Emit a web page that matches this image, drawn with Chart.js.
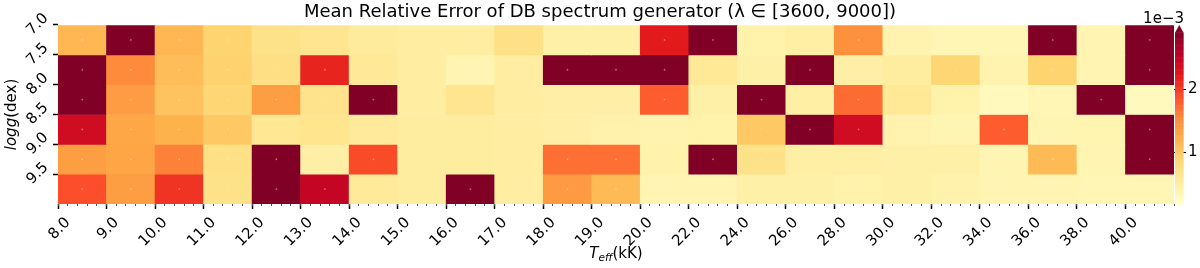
<!DOCTYPE html>
<html>
<head>
<meta charset="utf-8">
<script src="https://cdn.jsdelivr.net/npm/chart.js@4/dist/chart.umd.min.js"></script>
<style>
  html, body { margin: 0; padding: 0; background: #ffffff; }
  #wrap { width: 1200px; height: 268px; }
</style>
</head>
<body>
<div id="wrap"><canvas id="c" width="1200" height="268"></canvas></div>
<script>
// ---- data (units of 1e-3) ----
const tempLabels = ['8.0','9.0','10.0','11.0','12.0','13.0','14.0','15.0','16.0','17.0','18.0','19.0','20.0',
                    '22.0','24.0','26.0','28.0','30.0','32.0','34.0','36.0','38.0','40.0'];
const loggLabels = ['7.0','7.5','8.0','8.5','9.0','9.5'];
const err_logg70 = [1.15, 3.5, 1.15, 0.90, 0.70, 0.65, 0.55, 0.50, 0.50, 0.72, 0.45, 0.45, 2.22, 3.5, 0.43, 0.48, 1.50, 0.40, 0.35, 0.35, 3.5, 0.38, 3.5];
const err_logg75 = [3.5, 1.55, 1.10, 0.92, 0.75, 2.15, 0.58, 0.50, 0.38, 0.50, 3.5, 3.5, 3.5, 0.60, 0.45, 3.5, 0.47, 0.52, 0.88, 0.40, 0.90, 0.38, 3.5];
const err_logg80 = [3.5, 1.40, 1.05, 0.88, 1.38, 0.68, 3.5, 0.50, 0.65, 0.50, 0.47, 0.47, 1.80, 0.45, 3.5, 0.48, 1.72, 0.60, 0.43, 0.28, 0.35, 3.5, 0.28];
const err_logg85 = [2.40, 1.30, 1.20, 1.00, 0.62, 0.66, 0.56, 0.52, 0.52, 0.50, 0.47, 0.42, 0.40, 0.43, 1.00, 3.5, 2.40, 0.40, 0.37, 1.80, 0.37, 0.39, 3.5];
const err_logg90 = [1.38, 1.32, 1.60, 0.72, 3.5, 0.48, 1.90, 0.52, 0.52, 0.50, 1.70, 1.70, 0.43, 3.5, 0.70, 0.48, 0.48, 0.45, 0.46, 0.37, 1.12, 0.38, 3.5];
const err_logg95 = [1.88, 1.38, 2.05, 0.70, 3.5, 2.50, 0.57, 0.52, 3.5, 0.50, 1.42, 1.12, 0.38, 0.38, 0.45, 0.45, 0.43, 0.45, 0.42, 0.38, 0.38, 0.35, 0.35];
const errorRows = [err_logg70, err_logg75, err_logg80, err_logg85, err_logg90, err_logg95];
const colorbarTicks = [1, 2];

// ---- colour scale ----
const VMIN = 0.175, VMAX = 2.9;
const YLORRD = ['#ffffcc','#ffeda0','#fed976','#feb24c','#fd8d3c','#fc4e2a','#e31a1c','#bd0026','#800026']
  .map(h => [parseInt(h.slice(1,3),16), parseInt(h.slice(3,5),16), parseInt(h.slice(5,7),16)]);
function cmap(v) {
  if (v > VMAX) return 'rgb(128,0,38)';
  let t = (v - VMIN) / (VMAX - VMIN);
  t = Math.max(0, Math.min(1, t));
  const p = t * (YLORRD.length - 1);
  const i = Math.min(YLORRD.length - 2, Math.floor(p));
  const f = p - i;
  const a = YLORRD[i], b = YLORRD[i + 1];
  const c = [0,1,2].map(k => Math.round(a[k] + (b[k] - a[k]) * f));
  return `rgb(${c[0]},${c[1]},${c[2]})`;
}

const FONT = "'DejaVu Sans', 'Liberation Sans', sans-serif";

const rowDatasets = errorRows.map((row, r) => ({
  type: 'bar',
  label: 'logg ' + loggLabels[r],
  data: row.map((v, i) => ({ x: i + 0.5, y: [r, r + 1] })),
  backgroundColor: row.map(v => cmap(v)),
  borderWidth: 0,
  grouped: false,
  barPercentage: 1,
  categoryPercentage: 1,
  xAxisID: 'x',
  yAxisID: 'y',
  order: 2
}));

const dotDataset = {
  type: 'scatter',
  label: 'cells',
  data: errorRows.flatMap((row, r) => row.map((v, i) => ({ x: i + 0.5, y: r + 0.5 }))),
  pointRadius: 0.9,
  pointHoverRadius: 0.9,
  backgroundColor: 'rgba(235,235,235,0.45)',
  borderWidth: 0,
  xAxisID: 'x',
  yAxisID: 'y',
  order: 1
};

const CB_TOP = VMIN + 179 / 63; // axis max incl. extension triangle

const colorbarPlugin = {
  id: 'colorbar',
  afterDraw(chart) {
    const ctx = chart.ctx;
    const cb = chart.scales.cb;
    const area = chart.chartArea;
    const x0 = area.right + 1, w = 8.5;
    const yTop = cb.getPixelForValue(VMAX);
    ctx.save();
    const n = 200;
    for (let k = 0; k < n; k++) {
      const v0 = VMIN + (VMAX - VMIN) * k / n;
      const v1 = VMIN + (VMAX - VMIN) * (k + 1) / n;
      const p0 = cb.getPixelForValue(v0), p1 = cb.getPixelForValue(v1);
      ctx.fillStyle = cmap((v0 + v1) / 2);
      ctx.fillRect(x0, p1, w, p0 - p1 + 0.6);
    }
    const yTip = cb.getPixelForValue(CB_TOP);
    ctx.fillStyle = 'rgb(128,0,38)';
    ctx.beginPath();
    ctx.moveTo(x0, yTop + 0.5);
    ctx.lineTo(x0 + w, yTop + 0.5);
    ctx.lineTo(x0 + w / 2, yTip);
    ctx.closePath();
    ctx.fill();
    ctx.fillStyle = '#000';
    ctx.font = '15px ' + FONT;
    ctx.textAlign = 'right';
    ctx.textBaseline = 'alphabetic';
    ctx.fillText('1e\u22123', x0 + w + 0.5, 23);
    ctx.restore();
  }
};

const axisTitlePlugin = {
  id: 'axisTitles',
  afterDraw(chart) {
    const ctx = chart.ctx;
    const area = chart.chartArea;
    ctx.save();
    ctx.fillStyle = '#000';
    ctx.textBaseline = 'alphabetic';
    const fMain = '15px ' + FONT, fIt = 'italic 15px ' + FONT, fSub = 'italic 10.5px ' + FONT;
    ctx.font = fIt; const wT = ctx.measureText('T').width;
    ctx.font = fSub; const wE = ctx.measureText('eff').width;
    ctx.font = fMain; const wK = ctx.measureText('(kK)').width;
    const cx = (area.left + area.right) / 2;
    let x = cx - (wT + wE + wK) / 2;
    const by = 258;
    ctx.textAlign = 'left';
    ctx.font = fIt; ctx.fillText('T', x, by); x += wT;
    ctx.font = fSub; ctx.fillText('eff', x, by + 3); x += wE;
    ctx.font = fMain; ctx.fillText('(kK)', x, by);
    ctx.font = fIt; const wL = ctx.measureText('logg').width;
    ctx.font = fMain; const wD = ctx.measureText('(dex)').width;
    const cy = (area.top + area.bottom) / 2;
    ctx.translate(16, cy);
    ctx.rotate(-Math.PI / 2);
    let xx = -(wL + wD) / 2;
    ctx.font = fIt; ctx.fillText('logg', xx, 0); xx += wL;
    ctx.font = fMain; ctx.fillText('(dex)', xx, 0);
    ctx.restore();
  }
};

new Chart(document.getElementById('c'), {
  data: { datasets: [...rowDatasets, dotDataset] },
  options: {
    responsive: false,
    animation: false,
    devicePixelRatio: 1,
    layout: { padding: 0 },
    plugins: {
      legend: { display: false },
      tooltip: { enabled: false },
      title: {
        display: true,
        text: 'Mean Relative Error of DB spectrum generator (\u03bb \u2208 [3600, 9000])',
        color: '#000',
        font: { family: FONT, size: 18, weight: 'normal', lineHeight: 1.2 },
        padding: { top: 2, bottom: 1.4 }
      }
    },
    scales: {
      x: {
        type: 'linear',
        position: 'bottom',
        min: 0,
        max: tempLabels.length,
        offset: false,
        afterBuildTicks: s => { s.ticks = tempLabels.map((_, i) => ({ value: i })); },
        afterFit: s => { s.height = 64; },
        ticks: {
          autoSkip: false,
          minRotation: 45,
          maxRotation: 45,
          padding: 5,
          labelOffset: 10,
          color: '#000',
          font: { family: FONT, size: 15 },
          callback: v => tempLabels[Math.round(v)]
        },
        grid: { drawOnChartArea: false, offset: false, tickLength: 5, tickWidth: 1.5, tickColor: '#000' },
        border: { display: false }
      },
      xMinor: {
        type: 'linear',
        axis: 'x',
        position: { y: loggLabels.length },
        min: 0,
        max: tempLabels.length,
        offset: false,
        afterBuildTicks: s => {
          const t = [];
          for (let k = 0; k <= tempLabels.length * 5; k++) t.push({ value: k / 5 });
          s.ticks = t;
        },
        ticks: { display: false, autoSkip: false },
        grid: { drawOnChartArea: false, offset: false, tickLength: 2, tickWidth: 1, tickColor: '#555' },
        border: { display: false }
      },
      y: {
        type: 'linear',
        position: 'left',
        reverse: true,
        min: 0,
        max: loggLabels.length,
        afterBuildTicks: s => { s.ticks = loggLabels.map((_, i) => ({ value: i })); },
        afterFit: s => { s.width = 58; },
        ticks: {
          autoSkip: false,
          minRotation: 45,
          maxRotation: 45,
          padding: 7,
          labelOffset: -9,
          color: '#000',
          font: { family: FONT, size: 15 },
          callback: v => loggLabels[Math.round(v)]
        },
        grid: { drawOnChartArea: false, tickLength: 5, tickWidth: 1.5, tickColor: '#000' },
        border: { display: false }
      },
      cb: {
        type: 'linear',
        axis: 'y',
        position: 'right',
        min: VMIN,
        max: CB_TOP,
        afterBuildTicks: s => { s.ticks = colorbarTicks.map(v => ({ value: v })); },
        afterFit: s => { s.width = 26; },
        ticks: {
          autoSkip: false,
          padding: 2,
          color: '#000',
          font: { family: FONT, size: 15 },
          callback: v => String(v)
        },
        grid: { drawOnChartArea: false, tickLength: 12, tickWidth: 1, tickColor: '#000' },
        border: { display: false }
      }
    }
  },
  plugins: [colorbarPlugin, axisTitlePlugin]
});
</script>
</body>
</html>
